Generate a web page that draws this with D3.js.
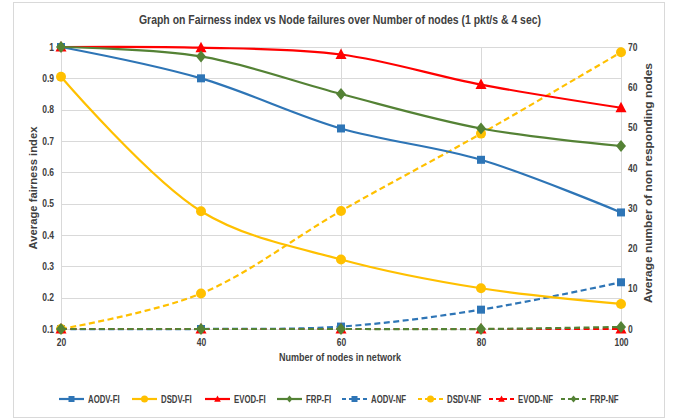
<!DOCTYPE html>
<html>
<head>
<meta charset="utf-8">
<script src="https://cdn.jsdelivr.net/npm/d3@7"></script>
<style>
body { margin: 0; background: #fff; }
text { font-family: "Liberation Sans", Arial, sans-serif; }
</style>
</head>
<body>
<div id="chart"></div>
<script>
// data
var nodes = [20, 40, 60, 80, 100];
var aodvFI = [1, 0.9, 0.74, 0.64, 0.472];
var dsdvFI = [0.905, 0.476, 0.322, 0.23, 0.18];
var evodFI = [1, 0.998, 0.976, 0.88, 0.806];
var frpFI = [1, 0.97, 0.85, 0.74, 0.684];
var aodvNF = [0, 0, 0.6, 4.8, 11.6];
var dsdvNF = [0, 8.8, 29.3, 48.5, 68.7];
var evodNF = [0, 0, 0, 0, 0];
var frpNF = [0, 0, 0, 0, 0.5];
var leftTicks = [0.1, 0.2, 0.3, 0.4, 0.5, 0.6, 0.7, 0.8, 0.9, 1];
var rightTicks = [0, 10, 20, 30, 40, 50, 60, 70];

var series = [
	{name: "AODV-FI", values: aodvFI, axis: "l", color: "#2e75b6", shape: "square", dash: false},
	{name: "DSDV-FI", values: dsdvFI, axis: "l", color: "#ffc000", shape: "circle", dash: false},
	{name: "EVOD-FI", values: evodFI, axis: "l", color: "#ff0000", shape: "triangle", dash: false},
	{name: "FRP-FI", values: frpFI, axis: "l", color: "#548235", shape: "diamond", dash: false},
	{name: "AODV-NF", values: aodvNF, axis: "r", color: "#2e75b6", shape: "square", dash: true},
	{name: "DSDV-NF", values: dsdvNF, axis: "r", color: "#ffc000", shape: "circle", dash: true},
	{name: "EVOD-NF", values: evodNF, axis: "r", color: "#ff0000", shape: "triangle", dash: true},
	{name: "FRP-NF", values: frpNF, axis: "r", color: "#548235", shape: "diamond", dash: true}
];

var width = 692, height = 419;
var svg = d3.select("#chart").append("svg")
	.attr("width", width)
	.attr("height", height);

// no narrow font here, so squeeze the text a bit like Calibri
function squeeze(t, f) {
	var w = t.node().getComputedTextLength();
	t.attr("textLength", w * f).attr("lengthAdjust", "spacingAndGlyphs");
	return w * f;
}

// chart frame
svg.append("rect")
	.attr("x", 13.5).attr("y", 2.5)
	.attr("width", 651).attr("height", 415)
	.attr("fill", "#fff")
	.attr("stroke", "#d9d9d9");

var x = d3.scalePoint().domain(nodes).range([61, 621]);
var yl = d3.scaleLinear().domain([0.1, 1]).range([329, 47]);
var yr = d3.scaleLinear().domain([0, 70]).range([329, 47]);

// gridlines
svg.append("g").selectAll("line.h")
	.data(leftTicks)
	.enter().append("line")
	.attr("x1", 61).attr("x2", 621)
	.attr("y1", d => Math.round(yl(d)) + 0.5)
	.attr("y2", d => Math.round(yl(d)) + 0.5)
	.attr("stroke", "#d9d9d9")
	.attr("stroke-width", 1);
svg.append("g").selectAll("line.v")
	.data(nodes)
	.enter().append("line")
	.attr("x1", d => Math.round(x(d)) + 0.5)
	.attr("x2", d => Math.round(x(d)) + 0.5)
	.attr("y1", 47).attr("y2", 329)
	.attr("stroke", "#d9d9d9")
	.attr("stroke-width", 1);

// axes (text only, Excel style)
var axL = svg.append("g").attr("transform", "translate(61,0)")
	.call(d3.axisLeft(yl).tickValues(leftTicks).tickSize(0).tickPadding(7).tickFormat(d3.format("~g")));
var axR = svg.append("g").attr("transform", "translate(621,0)")
	.call(d3.axisRight(yr).tickValues(rightTicks).tickSize(0).tickPadding(7));
var axB = svg.append("g").attr("transform", "translate(0,329)")
	.call(d3.axisBottom(x).tickSize(0).tickPadding(10));
[axL, axR, axB].forEach(function(a) {
	a.select(".domain").remove();
	a.selectAll("text")
		.attr("font-size", 10)
		.attr("font-weight", "bold")
		.attr("font-family", "'Liberation Sans', Arial, sans-serif")
		.attr("fill", "#404040")
		.each(function() { squeeze(d3.select(this), 0.85); });
});

// titles
var title = svg.append("text")
	.attr("x", 340).attr("y", 24)
	.attr("text-anchor", "middle")
	.attr("font-size", 13)
	.attr("font-weight", "bold")
	.attr("fill", "#404040")
	.text("Graph on Fairness index vs Node failures over Number of nodes (1 pkt/s & 4 sec)");
title.attr("textLength", 402).attr("lengthAdjust", "spacingAndGlyphs");
svg.append("text")
	.attr("x", 340).attr("y", 361)
	.attr("text-anchor", "middle")
	.attr("font-size", 11)
	.attr("font-weight", "bold")
	.attr("fill", "#404040")
	.text("Number of nodes in network")
	.attr("textLength", 122).attr("lengthAdjust", "spacingAndGlyphs");
svg.append("text")
	.attr("transform", "translate(37,188) rotate(-90)")
	.attr("text-anchor", "middle")
	.attr("font-size", 11)
	.attr("font-weight", "bold")
	.attr("fill", "#404040")
	.text("Average fairness index")
	.attr("textLength", 123).attr("lengthAdjust", "spacingAndGlyphs");
svg.append("text")
	.attr("transform", "translate(652,183) rotate(-90)")
	.attr("text-anchor", "middle")
	.attr("font-size", 11)
	.attr("font-weight", "bold")
	.attr("fill", "#404040")
	.text("Average number of non responding nodes")
	.attr("textLength", 240).attr("lengthAdjust", "spacingAndGlyphs");

function marker(g, shape, color, s) {
	if (shape == "circle") {
		g.append("circle").attr("r", s / 2).attr("fill", color);
	} else if (shape == "square") {
		g.append("rect").attr("x", -s / 2).attr("y", -s / 2).attr("width", s).attr("height", s).attr("fill", color);
	} else if (shape == "triangle") {
		g.append("path").attr("d", "M0," + (-s * 0.6) + "L" + (s * 0.55) + "," + (s * 0.45) + "L" + (-s * 0.55) + "," + (s * 0.45) + "Z").attr("fill", color);
	} else {
		g.append("path").attr("d", "M0," + (-s * 0.6) + "L" + (s * 0.5) + ",0L0," + (s * 0.6) + "L" + (-s * 0.5) + ",0Z").attr("fill", color);
	}
}
var markSize = {circle: 10, square: 8, triangle: 10, diamond: 10};

// lines, right axis series drawn first so solid ones lay on top
var order = [4, 5, 6, 7, 0, 1, 2, 3];
order.forEach(function(i) {
	var s = series[i];
	var ys = s.axis == "l" ? yl : yr;
	var line = d3.line()
		.x((d, j) => x(nodes[j]))
		.y(d => ys(d))
		.curve(d3.curveCatmullRom.alpha(0.5));
	svg.append("path")
		.datum(s.values)
		.attr("d", line)
		.attr("fill", "none")
		.attr("stroke", s.color)
		.attr("stroke-width", 2.2)
		.attr("stroke-dasharray", s.dash ? "6,3.5" : null);
	s.values.forEach(function(v, j) {
		var g = svg.append("g").attr("transform", "translate(" + x(nodes[j]) + "," + ys(v) + ")");
		marker(g, s.shape, s.color, markSize[s.shape]);
	});
});

// legend, item starts
var legX = [59, 132, 205, 277, 342, 418, 489, 561];
var leg = svg.append("g").attr("transform", "translate(0,399)");
series.forEach(function(s, i) {
	var it = leg.append("g").attr("transform", "translate(" + legX[i] + ",0)");
	it.append("line")
		.attr("x1", 0).attr("x2", 25)
		.attr("stroke", s.color)
		.attr("stroke-width", 2.2)
		.attr("stroke-dasharray", s.dash ? "4,3" : null);
	var m = it.append("g").attr("transform", "translate(12.5,0)");
	marker(m, s.shape, s.color, s.shape == "circle" ? 7 : 6);
	var t = it.append("text")
		.attr("x", 29).attr("y", 4)
		.attr("font-size", 10)
		.attr("font-weight", "bold")
		.attr("fill", "#404040")
		.text(s.name);
	squeeze(t, 0.78);
});
</script>
</body>
</html>
